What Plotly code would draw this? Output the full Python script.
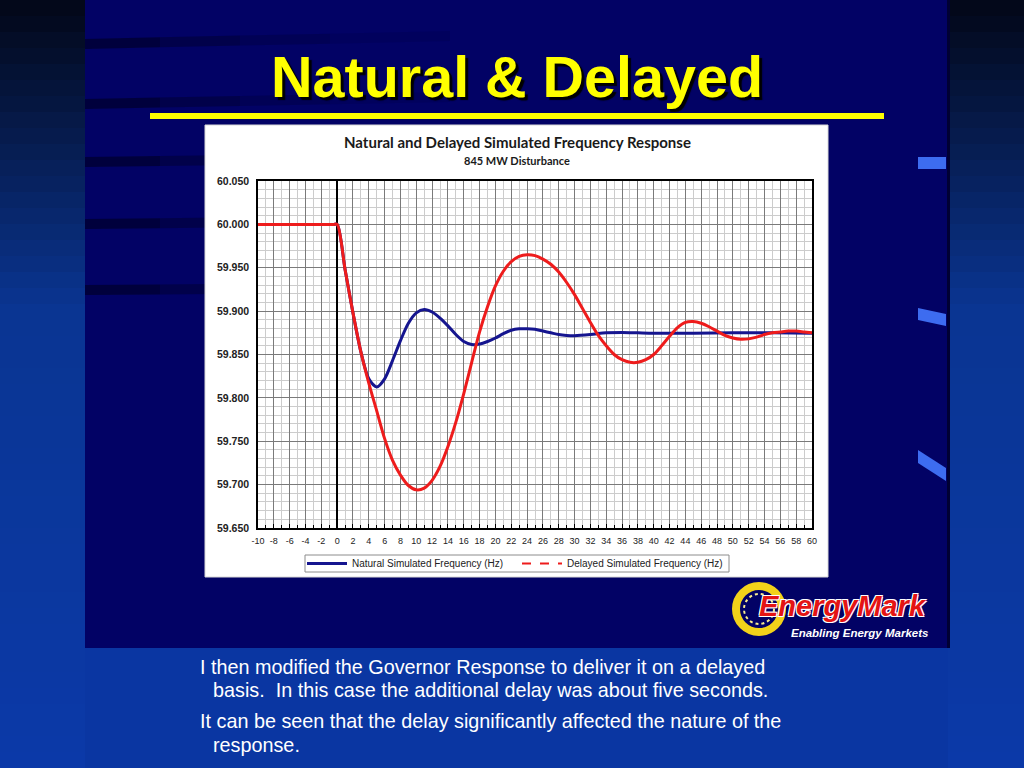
import plotly.graph_objects as go

# ---------------- data ----------------
natural_t = [-10, -5, -0.5, 0, 1, 2, 3, 4, 5, 6, 7, 8, 9, 10, 11, 12, 13, 14, 15, 16, 17, 18, 19,
             20, 21, 22, 23, 24, 25, 26, 27, 28, 29, 30, 32, 34, 36, 38, 40, 45, 50, 55, 60]
natural_hz = [60.000, 60.000, 60.000, 60.000, 59.948, 59.898, 59.853, 59.822, 59.8126, 59.822,
              59.843, 59.866, 59.886, 59.898, 59.902, 59.899, 59.892, 59.883, 59.873, 59.865,
              59.8615, 59.862, 59.865, 59.869, 59.874, 59.878, 59.8797, 59.8797, 59.879, 59.877,
              59.875, 59.873, 59.872, 59.8717, 59.873, 59.875, 59.8755, 59.875, 59.8745,
              59.8745, 59.875, 59.875, 59.8745]

delayed_t = [-10, -5, -0.5, 0, 1, 2, 3, 4, 5, 6, 7, 8, 9, 10, 11, 12, 13, 14, 15, 16, 17, 18, 19,
             20, 21, 22, 23, 24, 25, 26, 27, 28, 29, 30, 31, 32, 33, 34, 35, 36, 37, 38, 39,
             40, 41, 42, 43, 44, 45, 46, 47, 48, 49, 50, 51, 52, 53, 54, 55, 56, 57, 58, 59, 60]
delayed_hz = [60.000, 60.000, 60.000, 60.000, 59.948, 59.898, 59.853, 59.817, 59.785, 59.753,
              59.728, 59.711, 59.699, 59.694, 59.696, 59.705, 59.721, 59.744, 59.772, 59.805,
              59.841, 59.876, 59.905, 59.929, 59.946, 59.957, 59.963, 59.965, 59.964, 59.960,
              59.954, 59.945, 59.933, 59.919, 59.903, 59.887, 59.872, 59.860, 59.850, 59.844,
              59.841, 59.841, 59.844, 59.850, 59.860, 59.871, 59.881, 59.887, 59.888, 59.886,
              59.882, 59.877, 59.872, 59.869, 59.8675, 59.868, 59.870, 59.873, 59.875, 59.876,
              59.877, 59.877, 59.876, 59.875]

x_ticks = list(range(-10, 61, 2))
y_ticks = [59.65, 59.70, 59.75, 59.80, 59.85, 59.90, 59.95, 60.00, 60.05]

natural_name = "Natural Simulated Frequency (Hz)"
delayed_name = "Delayed Simulated Frequency (Hz)"
slide_title = "Natural & Delayed"
chart_title = "Natural and Delayed Simulated Frequency Response"
chart_subtitle = "845 MW Disturbance"
body_lines = [
    ("I then modified the Governor Response to deliver it on a delayed", 198, 667),
    ("basis.  In this case the additional delay was about five seconds.", 211, 690),
    ("It can be seen that the delay significantly affected the nature of the", 198, 721),
    ("response.", 211, 745),
]

# ---------------- helpers ----------------
W, H = 1024, 768


def px(x):
    return x / W


def py(y):
    return 1 - y / H


def hexmix(c1, c2, t):
    a = [int(c1[i:i + 2], 16) for i in (1, 3, 5)]
    b = [int(c2[i:i + 2], 16) for i in (1, 3, 5)]
    return "#%02x%02x%02x" % tuple(round(a[k] + (b[k] - a[k]) * t) for k in range(3))


shapes = []


def rect(x0, y0, x1, y1, fill, line=None, lw=0, opacity=1.0):
    shapes.append(dict(type="rect", xref="paper", yref="paper",
                       x0=px(x0), x1=px(x1), y0=py(y1), y1=py(y0),
                       fillcolor=fill, opacity=opacity,
                       line=dict(color=line or fill, width=lw), layer="below"))


def poly(points, fill, opacity=1.0):
    d = "M " + " L ".join("%f,%f" % (px(a), py(b)) for a, b in points) + " Z"
    shapes.append(dict(type="path", xref="paper", yref="paper", path=d,
                       fillcolor=fill, opacity=opacity, line=dict(width=0), layer="below"))


# background gradient (outer area)
steps = 48
for i in range(steps):
    y0 = H * i / steps
    y1 = H * (i + 1) / steps + 1
    t = i / (steps - 1)
    if t < 0.4:
        c = hexmix("#03081a", "#0a3592", t / 0.4)
    else:
        c = hexmix("#0a3592", "#0b39a8", (t - 0.4) / 0.6)
    rect(0, y0, W, y1, c)

# bottom band
rect(85, 648, 948, 768, "#0a36a2")
# main navy panel
rect(85, 0, 948, 648, "#020265")
rect(947, 0, 950, 648, "#000033")

# dark decorative bands in the panel (fading to the right)
for (yl, yr) in [(44, 36), (104, 97), (162, 157), (224, 220), (290, 287)]:
    for k, (xa, xb, op) in enumerate([(85, 160, 0.6), (160, 240, 0.4), (240, 330, 0.22), (330, 450, 0.1)]):
        ta = (xa - 85) / 365.0
        tb = (xb - 85) / 365.0
        ya = yl + (yr - yl) * ta
        yb = yl + (yr - yl) * tb
        poly([(xa, ya - 5), (xb, yb - 5), (xb, yb + 5), (xa, ya + 5)], "#000022", op)

# light blue tabs on the right edge
poly([(918, 157), (946, 157), (946, 169), (918, 169)], "#3d6cf0")
poly([(918, 308), (946, 314), (946, 326), (918, 320)], "#3d6cf0")
poly([(918, 450), (946, 468), (946, 481), (918, 463)], "#3d6cf0")

# yellow rule under the title
rect(150, 113, 884, 119, "#ffff00")

# white chart panel
rect(205, 125, 828, 577, "#ffffff", line="#d8d8d8", lw=1)
# legend frame
rect(305, 555, 729, 572, "#ffffff", line="#8c8c8c", lw=1)

# logo ring
shapes.append(dict(type="circle", xref="paper", yref="paper",
                   x0=px(736), x1=px(782), y0=py(632), y1=py(586),
                   line=dict(color="#f2d21a", width=8), fillcolor="rgba(0,0,0,0)", layer="above"))
shapes.append(dict(type="circle", xref="paper", yref="paper",
                   x0=px(744), x1=px(774), y0=py(624), y1=py(594),
                   line=dict(color="#f8ec90", width=2, dash="dot"), fillcolor="rgba(0,0,0,0)",
                   layer="above"))

# ---------------- figure ----------------
fig = go.Figure()

fig.add_trace(go.Scatter(
    x=natural_t, y=natural_hz, mode="lines", name=natural_name,
    line=dict(color="#15158f", width=3, shape="spline", smoothing=0.8),
    hoverinfo="skip"))
fig.add_trace(go.Scatter(
    x=delayed_t, y=delayed_hz, mode="lines", name=delayed_name, showlegend=False,
    legendgroup="delayed",
    line=dict(color="#ee1c1c", width=3, shape="spline", smoothing=0.8),
    hoverinfo="skip"))
# legend entry for the delayed series (the legend shows it dashed)
fig.add_trace(go.Scatter(
    x=[None], y=[None], mode="lines", name=delayed_name, legendgroup="delayed",
    line=dict(color="#ee1c1c", width=2, dash="dash")))

annotations = []


def ann(text, x, y, size, color, family="Liberation Sans", weight="normal", style="normal",
        xanchor="center", shadow=None):
    f = dict(size=size, color=color, family=family, weight=weight, style=style)
    if shadow:
        f["shadow"] = shadow
    annotations.append(dict(text=text, x=px(x), y=py(y), xref="paper", yref="paper",
                            xanchor=xanchor, yanchor="middle", showarrow=False, font=f))


ann(slide_title, 517, 77, 57.5, "#ffff00", weight="bold", shadow="3px 3px 1px #000000")
ann(chart_title, 517, 142, 15, "#1a1a1a", family="Lato", weight="bold")
ann(chart_subtitle, 517, 160, 11, "#1a1a1a", family="Lato", weight="bold")
for text, x, y in body_lines:
    ann(text, x, y, 19.8, "#ffffff", xanchor="left")
ann("EnergyMark", 843, 606, 29, "#e41414", weight="bold", style="italic",
    shadow="1px 1px 0 #fff, -1px -1px 0 #fff, 1px -1px 0 #fff, -1px 1px 0 #fff")
ann("Enabling Energy Markets", 859, 633, 11.5, "#ffffff", weight="bold", style="italic")

fig.update_layout(
    width=W, height=H, autosize=False,
    margin=dict(l=0, r=0, t=0, b=0, pad=0, autoexpand=False),
    paper_bgcolor="#0a3592",
    plot_bgcolor="#ffffff",
    shapes=shapes,
    annotations=annotations,
    showlegend=True,
    legend=dict(orientation="h", x=px(517), xanchor="center", y=py(563.5), yanchor="middle",
                bgcolor="rgba(0,0,0,0)", borderwidth=0,
                font=dict(family="Liberation Sans", size=10, color="#222222"),
                entrywidth=160, entrywidthmode="pixels",
                itemwidth=40, tracegroupgap=0),
    xaxis=dict(domain=[px(258), px(812)], range=[-10, 60], tickmode="array",
               tickvals=x_ticks, ticktext=[str(v) for v in x_ticks], automargin=False,
               showgrid=True, gridcolor="#7a7a7a", gridwidth=1,
               minor=dict(dtick=1, tick0=0, showgrid=True, gridcolor="#cccccc", gridwidth=1,
                          ticks="inside", ticklen=3, tickcolor="#000000"),
               ticks="inside", ticklen=4, tickcolor="#000000", ticklabelstandoff=3,
               showline=True, linecolor="#000000", linewidth=1.5, mirror=True,
               zeroline=True, zerolinecolor="#000000", zerolinewidth=2,
               tickfont=dict(family="Liberation Sans", size=9, color="#222222"),
               fixedrange=True),
    yaxis=dict(domain=[py(528), py(181)], range=[59.65, 60.05], tickmode="array",
               tickvals=y_ticks, ticktext=["%.3f" % v for v in y_ticks], automargin=False,
               showgrid=True, gridcolor="#7a7a7a", gridwidth=1,
               minor=dict(dtick=0.01, tick0=59.65, showgrid=True, gridcolor="#cccccc",
                          gridwidth=1),
               showline=True, linecolor="#000000", linewidth=1.5, mirror=True,
               zeroline=False, ticks="", ticklabelstandoff=5,
               tickfont=dict(family="Liberation Sans", size=10.5, color="#222222",
                             weight="bold"),
               fixedrange=True),
)

fig.write_html(
    "out.html",
    config=dict(displayModeBar=False),
    post_script="document.body.style.margin='0px';document.body.style.overflow='hidden';",
)
